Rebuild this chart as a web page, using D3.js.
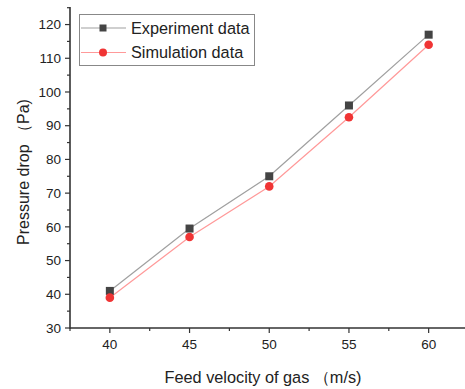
<!DOCTYPE html>
<html><head><meta charset="utf-8">
<script src="https://cdn.jsdelivr.net/npm/d3@7"></script>
<style>body{margin:0;background:#fff}svg{display:block}</style>
</head><body>
<svg id="c" width="465" height="389"></svg>
<script>
const xValues = [40, 45, 50, 55, 60];
const experiment = [41, 59.5, 75, 96, 117];
const simulation = [39, 57, 72, 92.5, 114];
const seriesNames = ["Experiment data", "Simulation data"];
const xTicks = [40, 45, 50, 55, 60];
const yTicks = [30, 40, 50, 60, 70, 80, 90, 100, 110, 120];
const xLabel = "Feed velocity of gas （m/s)";
const yLabel = "Pressure drop （Pa)";

const svg = d3.select("#c");
const font = "'Liberation Sans', Arial, sans-serif";
const x = d3.scaleLinear().domain([37.5, 62.5]).range([70, 468.5]);
const y = d3.scaleLinear().domain([30, 125]).range([328, 7.7]);

const axisColor = "#333";
const xMinor = d3.range(37.5, 62.6, 2.5);
const yMinor = d3.range(30, 125.1, 5);

const gx = svg.append("g").attr("transform", "translate(0,328)");
gx.append("line").attr("x1", 70).attr("x2", 470).attr("stroke", axisColor).attr("stroke-width", 1.6);
gx.selectAll("line.minor").data(xMinor).join("line").attr("class","minor")
  .attr("x1", d => x(d)).attr("x2", d => x(d)).attr("y1", 0)
  .attr("y2", d => xTicks.includes(d) ? 5 : 3).attr("stroke", axisColor).attr("stroke-width", 1.2);
gx.selectAll("text").data(xTicks).join("text")
  .attr("x", d => x(d)).attr("y", 20.5).attr("text-anchor", "middle")
  .attr("font-family", font).attr("font-size", 13.5).attr("fill", "#222").text(d => d);

const gy = svg.append("g").attr("transform", "translate(70,0)");
gy.append("line").attr("y1", 7).attr("y2", 328.8).attr("stroke", axisColor).attr("stroke-width", 1.6);
gy.selectAll("line.minor").data(yMinor).join("line").attr("class","minor")
  .attr("y1", d => y(d)).attr("y2", d => y(d)).attr("x1", 0)
  .attr("x2", d => yTicks.includes(d) ? -5 : -3).attr("stroke", axisColor).attr("stroke-width", 1.2);
gy.selectAll("text").data(yTicks).join("text")
  .attr("x", -9).attr("y", d => y(d)).attr("dy", "0.35em").attr("text-anchor", "end")
  .attr("font-family", font).attr("font-size", 13.5).attr("fill", "#222").text(d => d);

svg.append("text").attr("x", 263).attr("y", 383).attr("text-anchor", "middle")
  .attr("font-family", font).attr("font-size", 16.3).attr("fill", "#222").text(xLabel);
svg.append("text").attr("transform", "translate(28.5,172) rotate(-90)").attr("text-anchor", "middle")
  .attr("font-family", font).attr("font-size", 16).attr("fill", "#222").text(yLabel);

const line = d3.line().x(d => x(d[0])).y(d => y(d[1]));
const expData = xValues.map((v, i) => [v, experiment[i]]);
const simData = xValues.map((v, i) => [v, simulation[i]]);

svg.append("path").datum(expData).attr("d", line).attr("fill", "none").attr("stroke", "#a0a0a0").attr("stroke-width", 1.2);
svg.append("path").datum(simData).attr("d", line).attr("fill", "none").attr("stroke", "#f99").attr("stroke-width", 1.2);
svg.selectAll("rect.m").data(expData).join("rect").attr("class","m")
  .attr("x", d => x(d[0]) - 4).attr("y", d => y(d[1]) - 4).attr("width", 8).attr("height", 8).attr("fill", "#444");
svg.selectAll("circle.m").data(simData).join("circle").attr("class","m")
  .attr("cx", d => x(d[0])).attr("cy", d => y(d[1])).attr("r", 4.3).attr("fill", "#f03434");

// legend
const lg = svg.append("g");
lg.append("rect").attr("x", 79.5).attr("y", 14.5).attr("width", 175).attr("height", 51)
  .attr("fill", "#fff").attr("stroke", "#888").attr("stroke-width", 1);
const rows = [{name: seriesNames[0], yy: 28, c: "#a0a0a0", m: "sq"}, {name: seriesNames[1], yy: 52.5, c: "#f99", m: "ci"}];
rows.forEach(r => {
  lg.append("line").attr("x1", 81).attr("x2", 126).attr("y1", r.yy).attr("y2", r.yy).attr("stroke", r.c).attr("stroke-width", 1.2);
  if (r.m === "sq") lg.append("rect").attr("x", 99.5).attr("y", r.yy - 3.5).attr("width", 7).attr("height", 7).attr("fill", "#444");
  else lg.append("circle").attr("cx", 103).attr("cy", r.yy).attr("r", 4).attr("fill", "#f03434");
  lg.append("text").attr("x", 131).attr("y", r.yy).attr("dy", "0.35em").attr("font-family", font)
    .attr("font-size", 16.3).attr("fill", "#222").text(r.name);
});
</script>
</body></html>
